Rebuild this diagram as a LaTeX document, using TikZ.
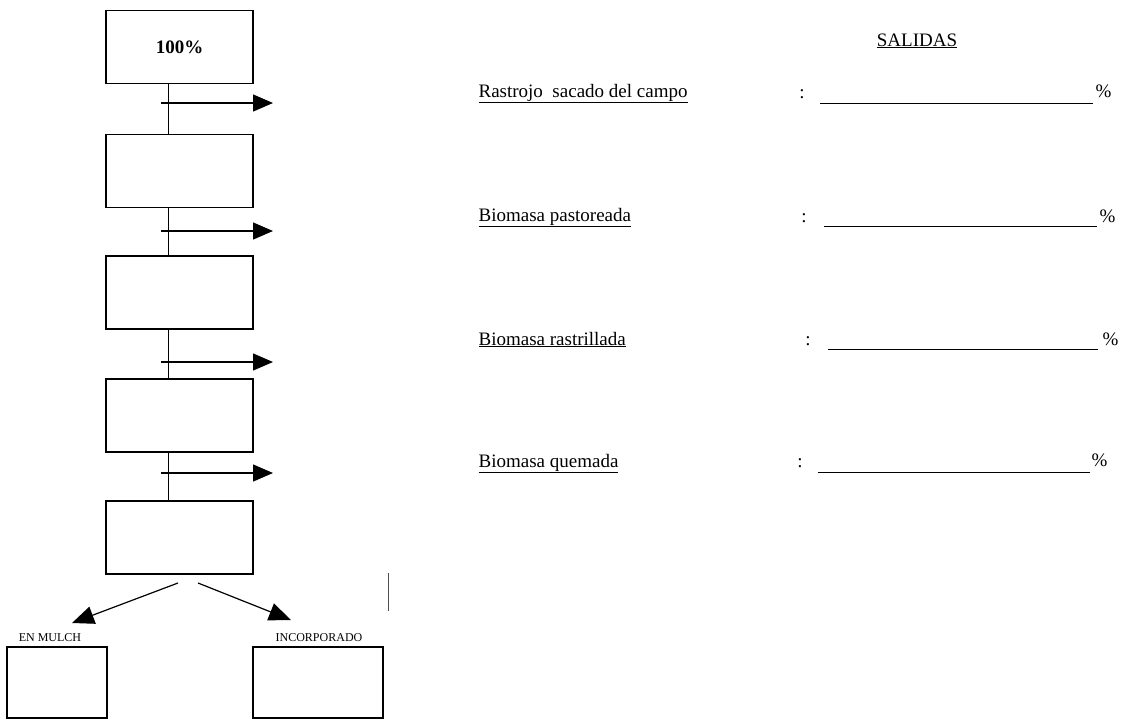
\documentclass[tikz,border=0pt]{standalone}
\usepackage{fontspec}
\setmainfont{Liberation Serif}
\usetikzlibrary{arrows.meta}
\begin{document}
\begin{tikzpicture}[x=1pt,y=-1pt,
  line width=1.2pt,
  flowbox/.style={draw, minimum width=147pt, minimum height=73pt, inner sep=0pt},
  smallbox/.style={draw, inner sep=0pt},
  link/.style={line width=1.2pt},
  outarrow/.style={line width=1.2pt, -{Triangle[length=20pt,width=17pt]}},
  splitarrow/.style={line width=1.2pt, -{Triangle[length=22pt,width=18pt]}},
  lbl/.style={anchor=base west, inner sep=0pt, font=\fontsize{19}{22}\selectfont},
  colon/.style={anchor=base, inner sep=0pt, font=\fontsize{19}{22}\selectfont},
  pct/.style={anchor=base west, inner sep=0pt, font=\fontsize{19}{22}\selectfont},
  blank/.style={line width=1pt},
  tag/.style={anchor=base, inner sep=0pt, font=\fontsize{12}{14}\selectfont}
]
\useasboundingbox (0,0) rectangle (1124,720);

% main column
\node[flowbox] (b1) at (179.5,47) {\fontsize{19}{22}\selectfont\bfseries 100\%};
\node[flowbox] (b2) at (179.5,171) {};
\node[flowbox] (b3) at (179.5,292.5) {};
\node[flowbox] (b4) at (179.5,415.5) {};
\node[flowbox] (b5) at (179.5,537.5) {};

% vertical links
\draw[link] ([xshift=63pt]b1.south west) -- ([xshift=63pt]b2.north west);
\draw[link] ([xshift=63pt]b2.south west) -- ([xshift=63pt]b3.north west);
\draw[link] ([xshift=63pt]b3.south west) -- ([xshift=63pt]b4.north west);
\draw[link] ([xshift=63pt]b4.south west) -- ([xshift=63pt]b5.north west);

% output arrows
\coordinate (s1) at (161,103); \coordinate (e1) at (273,103);
\coordinate (s2) at (161,231); \coordinate (e2) at (273,231);
\coordinate (s3) at (161,362); \coordinate (e3) at (273,362);
\coordinate (s4) at (161,473); \coordinate (e4) at (273,473);
\draw[outarrow] (s1) -- (e1);
\draw[outarrow] (s2) -- (e2);
\draw[outarrow] (s3) -- (e3);
\draw[outarrow] (s4) -- (e4);

% split
\coordinate (sl) at (178,583); \coordinate (sr) at (198,583);
\node[smallbox, minimum width=100pt, minimum height=71pt] (mulch) at (57,682.5) {};
\node[smallbox, minimum width=130pt, minimum height=71pt] (incorp) at (318,682.5) {};
\node[tag] (tmulch) at (50,641) {EN MULCH};
\node[tag] (tincorp) at (319,641) {INCORPORADO};
\coordinate (tl) at (72,623); \coordinate (tr) at (291,620);
\draw[splitarrow] (sl) -- (tl);
\draw[splitarrow] (sr) -- (tr);

% stray mark
\coordinate (m1) at (388,573); \coordinate (m2) at (388,611);
\draw[line width=0.8pt, black!70] (m1) -- (m2);

% outputs
\node[anchor=base, inner sep=0pt, font=\fontsize{19}{22}\selectfont] (sal) at (917,46) {\underline{SALIDAS}};

\node[lbl] (l1) at (478,97) {\underline{Rastrojo\ \ sacado del campo}};
\node[lbl] (l2) at (478,221) {\underline{Biomasa pastoreada}};
\node[lbl] (l3) at (478,345) {\underline{Biomasa rastrillada}};
\node[lbl] (l4) at (478,467) {\underline{Biomasa quemada}};

\node[colon] (c1) at (802,98) {:};
\node[colon] (c2) at (804,222) {:};
\node[colon] (c3) at (808,345) {:};
\node[colon] (c4) at (800,467) {:};

\coordinate (a1) at (820,103); \coordinate (z1) at (1093,103);
\coordinate (a2) at (824,226); \coordinate (z2) at (1097,226);
\coordinate (a3) at (828,349); \coordinate (z3) at (1098,349);
\coordinate (a4) at (818,472); \coordinate (z4) at (1090,472);
\draw[blank] (a1) -- (z1);
\draw[blank] (a2) -- (z2);
\draw[blank] (a3) -- (z3);
\draw[blank] (a4) -- (z4);

\node[pct] (p1) at (1095,97) {\%};
\node[pct] (p2) at (1099,222) {\%};
\node[pct] (p3) at (1102,345) {\%};
\node[pct] (p4) at (1091,466) {\%};
\end{tikzpicture}
\end{document}
